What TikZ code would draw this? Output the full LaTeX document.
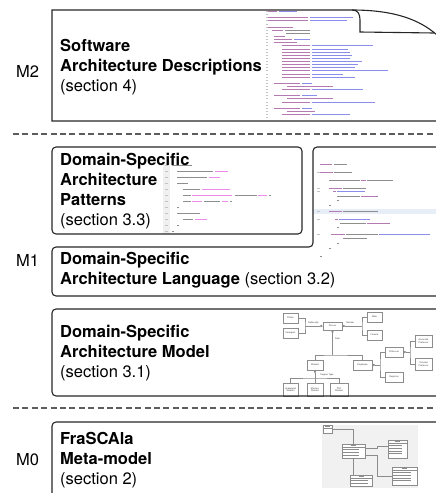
\documentclass[tikz,border=0pt]{standalone}
\usepackage{fontspec}
\setmainfont{TeX Gyre Heros}
\usepackage{xcolor}
\usepackage{tikz}
\usetikzlibrary{arrows.meta, positioning}

\definecolor{kwpurple}{HTML}{B57AB2}
\definecolor{strblue}{HTML}{8C8CEA}
\definecolor{strpink}{HTML}{EE8CEE}
\definecolor{codedark}{HTML}{8E8E8E}
\definecolor{lnumgray}{HTML}{C4C4C4}
\definecolor{sepgray}{HTML}{5C5C5C}
\definecolor{umlgray}{HTML}{8C8C8C}
\definecolor{hlblue}{HTML}{E8EEF8}
\definecolor{mmback}{HTML}{F1F1F1}

\begin{document}
\begin{tikzpicture}[
    x=1pt, y=-1pt,
    layerbox/.style={draw=black!85, line width=1.1pt},
    titletext/.style={anchor=west, inner sep=0pt, align=left, font=\fontsize{16.5}{20}\selectfont},
    levellabel/.style={inner sep=0pt, font=\fontsize{16.5}{20}\selectfont},
    levelsep/.style={draw=sepgray, line width=2pt, dash pattern=on 6pt off 3.4pt},
    codeline/.style={line width=0.75pt},
    umlbox/.style={draw=umlgray, fill=white, line width=0.5pt, inner sep=0pt, text=black!70, font=\fontsize{2.3}{2.6}\selectfont, align=center},
    umlline/.style={draw=umlgray, line width=0.6pt},
    aggr/.style={-{Diamond[open, length=3pt, width=2.4pt]}},
    umllabel/.style={inner sep=0.3pt, text=black!70, font=\fontsize{2.3}{2.6}\selectfont},
    mmclass/.style={draw=umlgray, fill=white, line width=0.4pt, inner sep=0pt},
    attrline/.style={draw=black!45, line width=0.5pt}
]
\useasboundingbox (0,0) rectangle (436,493);
\clip (0,0) rectangle (436,493);

% M2 -- code of the descriptions
\foreach \k in {0,...,34}
    \draw[codeline, lnumgray] (265.5,{11.5+3.12*\k}) -- (267.5,{11.5+3.12*\k});
\foreach \k/\u/\v/\col [evaluate=\k as \y using {11.5+3.12*\k}] in {
    0/268/277/kwpurple, 0/279/297/strblue,
    2/268/308/kwpurple, 2/310/353/strblue,
    3/268/308/kwpurple, 3/310/347/strblue,
    5/268/293/kwpurple,
    6/272/283/kwpurple, 6/285/310/codedark,
    7/286/310/codedark,
    8/274/285/kwpurple,
    9/274/292/kwpurple, 9/294/310/strblue,
    10/274/297/kwpurple,
    11/282/310/kwpurple, 11/312/373/strblue,
    12/282/310/kwpurple, 12/312/348/strblue,
    13/282/310/kwpurple, 13/312/350/strblue,
    14/282/310/kwpurple, 14/312/352/strblue,
    15/282/310/kwpurple, 15/312/350/strblue,
    16/282/310/kwpurple, 16/312/362/strblue,
    17/282/310/kwpurple, 17/312/358/strblue,
    18/282/310/kwpurple, 18/312/355/strblue,
    19/282/310/kwpurple, 19/312/388/strblue,
    20/282/310/kwpurple, 20/312/343/strblue,
    21/282/310/kwpurple, 21/312/355/strblue,
    23/274/300/kwpurple, 23/302/312/strblue,
    24/287/333/kwpurple,
    25/282/310/kwpurple, 25/312/363/strblue,
    27/274/300/kwpurple, 27/302/317/strblue,
    28/287/333/kwpurple,
    29/282/310/kwpurple, 29/312/375/strblue,
    31/274/300/kwpurple, 31/302/312/strblue,
    32/287/315/kwpurple,
    33/282/310/kwpurple, 33/312/350/strblue}
    \draw[codeline, \col] (\u,\y) -- (\v,\y);

% M1 -- code of the patterns
\fill[black!6] (163,162) rectangle (170,234);
\foreach \k in {0,...,11}
    \draw[codeline, lnumgray] (164.5,{165+6*\k}) -- (168,{165+6*\k});
\foreach \k/\u/\v/\col [evaluate=\k as \y using {165+6*\k}] in {
    0/172/192/codedark,
    1/177/213/codedark, 1/215/228/strpink,
    2/177/207/codedark, 2/209/220/strpink,
    3/177/188/codedark,
    4/183/200/codedark, 4/202/230/strpink,
    5/183/191/codedark, 5/192/232/strpink, 5/235/257/codedark, 5/258/267/strpink, 5/269/271/codedark,
    6/183/191/codedark, 6/192/202/strpink, 6/204/220/codedark, 6/222/228/strpink, 6/230/232/codedark,
    7/177/179/codedark,
    8/177/200/codedark,
    9/183/193/codedark, 9/195/207/strpink,
    10/177/179/codedark,
    11/172/174/codedark}
    \draw[codeline, \col] (\u,\y) -- (\v,\y);

% M1 -- code of the language
\fill[hlblue] (313,209.3) rectangle (436,214.3);
\foreach \y in {172.3, 188.3, 191.7, 211.7, 219, 234.3}
    \draw[codeline, lnumgray] (316.5,\y) -- (319.5,\y);
\foreach \y/\u/\v/\col in {
    164/320/332/kwpurple, 164/334/347/codedark,
    172.3/320/333/kwpurple, 172.3/334/352/codedark,
    180/329/360/codedark, 180/361/366/kwpurple, 180/367/393/codedark,
    188.3/329/342/kwpurple, 188.3/343/366/codedark,
    191.7/333/336/kwpurple, 191.7/337/365/strblue,
    196/337/360/codedark, 196/361/378/kwpurple,
    200/337/339/codedark, 205/329/331/codedark,
    211.7/329/342/kwpurple, 211.7/343/378/codedark,
    219/335/338/kwpurple, 219/339/370/strblue,
    223.3/340/366/codedark, 223.3/367/390/kwpurple,
    227.3/337/339/codedark,
    234.3/331/345/kwpurple, 234.3/346/378/codedark, 234.3/379/430/strblue,
    238.3/343/367/codedark,
    243.3/337/339/codedark, 248.3/329/331/codedark, 256/320/322/codedark}
    \draw[codeline, \col] (\u,\y) -- (\v,\y);

% M1 -- model as class diagram
\node[umlbox, minimum width=15pt, minimum height=10pt] (citizen) at (290.5,318) {Citizen};
\node[umlbox, minimum width=15pt, minimum height=10pt] (foreigner) at (290.5,333) {Foreigner};
\node[umlbox, minimum width=19pt, minimum height=8pt] (person) at (332.5,326) {Person};
\node[umlbox, minimum width=15pt, minimum height=10pt] (male) at (374.5,317) {Male};
\node[umlbox, minimum width=15pt, minimum height=10pt] (female) at (374.5,335) {Female};
\node[umlbox, minimum width=16pt, minimum height=10pt] (student) at (315,365) {Student};
\node[umlbox, minimum width=19pt, minimum height=10pt] (employee) at (362.5,365) {Employee};
\node[umlbox, minimum width=18pt, minimum height=10pt] (professor) at (394,352) {Professor};
\node[umlbox, minimum width=18pt, minimum height=10pt] (registrar) at (394,377) {Registrar};
\node[umlbox, minimum width=17pt, minimum height=12pt] (assocprof) at (423.5,341) {Associate\\Professor};
\node[umlbox, minimum width=17pt, minimum height=12pt] (tenuredprof) at (423.5,364) {Tenured\\Professor};
\node[umlbox, minimum width=15pt, minimum height=13pt] (undergrad) at (290.5,389.5) {Undergrad\\Student};
\node[umlbox, minimum width=16pt, minimum height=13pt] (masters) at (315,389.5) {Masters\\Student};
\node[umlbox, minimum width=18pt, minimum height=13pt] (phd) at (339,389.5) {PhD\\Student};

\coordinate (natjoin) at (305,326);
\coordinate (genjoin) at (362,326);
\coordinate (rolejoin) at (332.5,355);
\coordinate (degjoin) at (315,378);
\coordinate (empjoin) at (380,365);
\coordinate (profjoin) at (410,352);

\draw[umlline] (citizen.east) -| (natjoin) |- (foreigner.east);
\draw[umlline, aggr] (natjoin) -- (person.west);
\draw[umlline] (male.west) -| (genjoin) |- (female.west);
\draw[umlline, aggr] (genjoin) -- (person.east);
\draw[umlline] (student.north) |- (rolejoin) -| (employee.north);
\draw[umlline, aggr] (rolejoin) -- (person.south);
\draw[umlline] (undergrad.north) |- (degjoin) -| (phd.north);
\draw[umlline] (masters.north) -- (degjoin);
\draw[umlline, aggr] (degjoin) -- (student.south);
\draw[umlline] (professor.west) -| (empjoin) |- (registrar.west);
\draw[umlline, aggr] (empjoin) -- (employee.east);
\draw[umlline] (assocprof.west) -| (profjoin) |- (tenuredprof.west);
\draw[umlline, aggr] (profjoin) -- (professor.east);

\node[umllabel] at (313.5,322.8) {Nationality};
\node[umllabel] at (350,322.8) {Gender};
\node[umllabel] at (337.5,338.5) {Role};
\node[umllabel] at (327,374.8) {Degree Type};

% M0 -- meta-model as class diagram
\fill[mmback] (322,425) rectangle (418,488);
\node[mmclass, minimum width=9pt, minimum height=8pt] (mmhead) at (327.5,429) {};
\node[mmclass, minimum width=23pt, minimum height=14pt] (mmcore) at (353.5,451) {};
\node[mmclass, minimum width=19pt, minimum height=18pt] (mmtop) at (397.5,449) {};
\node[mmclass, minimum width=22pt, minimum height=11pt] (mmbottom) at (361,480.5) {};
\node[mmclass, minimum width=25pt, minimum height=18pt] (mmright) at (404.5,476) {};
\foreach \n/\rows/\len in {mmhead/1/0, mmcore/3/16, mmtop/4/13, mmbottom/2/17, mmright/4/18} {
    \draw[umlgray, line width=0.3pt] ([yshift=-3pt]\n.north west) -- ([yshift=-3pt]\n.north east);
    \draw[attrline] ([yshift=-1.5pt]\n.north) ++(-2.5,0) -- ++(5,0);
    \foreach \r in {1,...,\rows}
        \draw[attrline] ([xshift=1.2pt, yshift={-(3+2.7*\r)*1pt}]\n.north west) -- ++(\len,0);
}
\draw[umlline] (mmhead.east) -| (mmcore.north);
\draw[umlline] ([yshift=3pt]mmcore.east) -- ++(12,0) |- ([yshift=3pt]mmtop.west);
\draw[umlline] ([yshift=-4pt]mmcore.east) -- ++(12,0) |- (mmright.west);
\draw[umlline] (mmcore.south) -- (mmcore.south |- mmbottom.north);

% Levels
\coordinate (sepupl) at (13,134);
\coordinate (sepupr) at (436,134);
\coordinate (seplowl) at (13,408);
\coordinate (seplowr) at (436,408);
\draw[levelsep] (sepupl) -- (sepupr);
\draw[levelsep] (seplowl) -- (seplowr);

% Boxes
\draw[layerbox] (445,121) -- (52,121) -- (52,10) -- (352,10) .. controls (358,10) and (360,14) .. (360,20) -- (360,32) -- (434,33);
\draw[layerbox] (352,10) .. controls (395,10) and (420,20) .. (437,35);
\draw[layerbox, rounded corners=4pt] (52,147) rectangle (302,234);
\draw[layerbox, rounded corners=4pt] (445,147) -- (313,147) -- (313,247) -- (52,247) -- (52,296) -- (445,296);
\draw[layerbox, rounded corners=4pt] (445,309) -- (52,309) -- (52,396) -- (445,396);
\draw[layerbox, rounded corners=4pt] (445,422) -- (52,422) -- (52,500);

% Texts
\node[titletext] (m2title) at (60,67) {\textbf{Software}\\\textbf{Architecture Descriptions}\\(section 4)};
\node[titletext] (pattitle) at (60,191) {\textbf{Domain-Specific}\\\textbf{Architecture}\\\textbf{Patterns}\\(section 3.3)};
\node[titletext] (langtitle) at (60,270) {\textbf{Domain-Specific}\\\textbf{Architecture Language} (section 3.2)};
\node[titletext] (modeltitle) at (60,353) {\textbf{Domain-Specific}\\\textbf{Architecture Model}\\(section 3.1)};
\node[titletext] (mmtitle) at (60,460) {\textbf{FraSCAla}\\\textbf{Meta-model}\\(section 2)};

\node[levellabel] (m2label) at (27.5,71) {M2};
\node[levellabel] (m1label) at (27.5,260) {M1};
\node[levellabel] (m0label) at (27.5,460) {M0};

\end{tikzpicture}
\end{document}
